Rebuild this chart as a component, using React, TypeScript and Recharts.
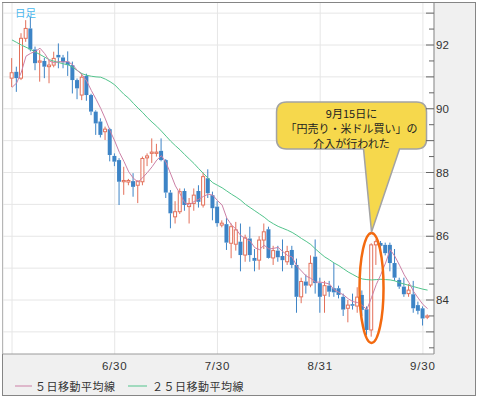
import React from 'react';
import { ComposedChart, Bar, Line, XAxis, YAxis, CartesianGrid, ReferenceDot, Customized } from 'recharts';

const dates = [
  '5/31',
  '6/1','6/2','6/3','6/4','6/7','6/8','6/9','6/10','6/11','6/14','6/15','6/16','6/17','6/18','6/21','6/22','6/23','6/24','6/25','6/28','6/29','6/30',
  '7/1','7/2','7/5','7/6','7/7','7/8','7/9','7/12','7/13','7/14','7/15','7/16','7/19','7/20','7/21','7/22','7/23','7/26','7/27','7/28','7/29','7/30',
  '8/2','8/3','8/4','8/5','8/6','8/9','8/10','8/11','8/12','8/13','8/16','8/17','8/18','8/19','8/20','8/23','8/24','8/25','8/26','8/27','8/30','8/31',
  '9/1','9/2','9/3','9/6','9/7','9/8','9/9','9/10','9/13','9/14','9/15','9/16','9/17','9/20','9/21','9/22','9/23','9/24','9/27','9/28','9/29','9/30',
  '10/1',
];

const opens = [
  90.96, 91.16, 90.96, 92.21, 92.52, 91.86, 91.46, 91.50, 91.32, 91.37,
  91.69, 91.61, 91.48, 91.37, 90.90, 90.43, 91.03, 90.43, 89.91, 89.60,
  89.28, 89.36, 88.52, 88.39, 87.71, 87.70, 87.73, 87.60, 87.71, 88.46,
  88.60, 88.60, 88.68, 88.39, 87.37, 86.61, 86.77, 87.42, 86.93, 87.03,
  87.42, 86.98, 87.82, 87.29, 86.93, 86.35, 86.38, 85.78, 85.75, 85.83,
  85.41, 85.93, 85.32, 85.25, 85.88, 86.22, 85.32, 85.55, 85.38, 85.20,
  85.57, 85.10, 84.10, 84.58, 84.47, 85.36, 84.53, 84.15, 84.45, 84.37,
  84.37, 84.10, 83.74, 83.87, 83.81, 84.16, 83.71, 83.06, 85.73, 85.79,
  85.73, 85.73, 85.16, 84.63, 84.42, 84.20, 84.18, 83.84, 83.74, 83.46,
];
const highs = [
  91.59, 91.32, 92.37, 92.78, 92.87, 91.95, 91.84, 91.60, 91.53, 91.79,
  92.05, 91.69, 91.80, 91.48, 90.95, 91.11, 91.10, 90.47, 89.95, 89.70,
  89.44, 89.40, 88.60, 88.45, 88.18, 87.80, 87.98, 87.75, 88.50, 88.60,
  89.07, 88.90, 89.07, 88.42, 87.45, 87.10, 87.50, 87.50, 87.20, 87.50,
  87.60, 88.00, 88.10, 87.40, 87.10, 86.50, 86.57, 86.40, 86.45, 86.40,
  86.05, 86.30, 85.60, 86.00, 86.40, 86.30, 85.70, 85.70, 85.90, 85.70,
  85.70, 85.30, 84.70, 84.80, 85.40, 85.90, 84.70, 84.60, 84.60, 85.16,
  84.45, 84.20, 84.00, 84.20, 84.40, 84.30, 83.80, 85.78, 85.90, 85.85,
  85.80, 85.80, 85.60, 84.70, 84.70, 84.50, 84.60, 83.95, 83.80, 83.55,
];
const lows = [
  90.68, 90.53, 90.90, 92.10, 91.80, 91.21, 90.85, 90.96, 90.80, 91.30,
  91.27, 91.27, 91.03, 90.48, 90.30, 90.27, 90.25, 89.80, 89.18, 89.10,
  89.02, 88.35, 88.20, 86.98, 87.30, 87.60, 87.24, 87.04, 87.60, 88.20,
  88.30, 88.50, 88.35, 87.20, 86.25, 86.40, 86.70, 86.80, 86.40, 86.80,
  86.90, 86.90, 87.20, 86.50, 86.30, 86.28, 85.57, 85.31, 85.55, 84.90,
  85.20, 85.20, 84.90, 84.95, 85.60, 85.30, 85.10, 85.20, 84.90, 85.10,
  85.00, 83.60, 83.90, 84.20, 84.40, 84.20, 83.60, 83.60, 84.10, 84.10,
  84.05, 83.50, 83.30, 83.70, 83.60, 83.50, 82.90, 82.85, 85.10, 85.55,
  85.40, 84.90, 84.60, 84.35, 84.10, 84.10, 83.60, 83.55, 83.20, 83.40,
];
const closes = [
  91.13, 90.96, 92.21, 92.52, 91.86, 91.43, 91.50, 91.32, 91.37, 91.58,
  91.61, 91.46, 91.37, 90.90, 90.64, 90.99, 90.43, 89.91, 89.54, 89.18,
  89.36, 88.55, 88.34, 87.71, 87.75, 87.75, 87.55, 87.73, 88.44, 88.52,
  88.64, 88.64, 88.39, 87.37, 86.72, 86.77, 87.40, 86.98, 87.03, 87.29,
  87.08, 87.87, 87.35, 86.88, 86.41, 86.41, 85.80, 86.30, 86.20, 85.41,
  85.95, 85.41, 85.23, 85.88, 86.14, 85.32, 85.55, 85.34, 85.25, 85.52,
  85.10, 84.10, 84.58, 84.45, 85.15, 84.53, 84.10, 84.45, 84.26, 84.24,
  84.16, 83.70, 83.84, 83.82, 84.09, 83.69, 83.06, 85.73, 85.83, 85.70,
  85.47, 85.16, 84.70, 84.42, 84.18, 84.31, 83.74, 83.66, 83.42, 83.50,
];
const ma5 = [
  90.67, 90.81, 91.15, 91.65, 91.74, 91.80, 91.90, 91.73, 91.50, 91.44,
  91.48, 91.47, 91.48, 91.38, 91.20, 91.07, 90.87, 90.57, 90.30, 90.01,
  89.68, 89.31, 88.99, 88.63, 88.34, 88.02, 87.82, 87.70, 87.84, 88.00,
  88.18, 88.39, 88.53, 88.31, 87.95, 87.58, 87.33, 87.05, 86.98, 87.09,
  87.16, 87.25, 87.32, 87.29, 87.12, 86.98, 86.57, 86.36, 86.22, 86.02,
  85.93, 85.85, 85.64, 85.58, 85.72, 85.60, 85.62, 85.65, 85.52, 85.40,
  85.35, 85.06, 84.91, 84.75, 84.68, 84.56, 84.56, 84.54, 84.50, 84.32,
  84.24, 84.16, 84.04, 83.95, 83.92, 83.83, 83.70, 84.08, 84.48, 84.80,
  85.16, 85.58, 85.37, 85.09, 84.79, 84.55, 84.27, 84.06, 83.86, 83.73,
];
const ma25 = [
  92.16, 92.08, 92.00, 91.93, 91.86, 91.78, 91.70, 91.62, 91.54, 91.49,
  91.45, 91.41, 91.38, 91.30, 91.20, 91.10, 91.05, 91.02, 91.00, 90.99,
  90.93, 90.85, 90.75, 90.60, 90.45, 90.33, 90.17, 90.02, 89.88, 89.72,
  89.58, 89.45, 89.30, 89.14, 88.98, 88.84, 88.71, 88.56, 88.42, 88.28,
  88.12, 87.97, 87.82, 87.68, 87.60, 87.52, 87.42, 87.32, 87.23, 87.13,
  87.00, 86.90, 86.80, 86.70, 86.60, 86.48, 86.39, 86.31, 86.25, 86.19,
  86.12, 86.03, 85.93, 85.84, 85.74, 85.60, 85.47, 85.35, 85.26, 85.16,
  85.08, 84.98, 84.88, 84.80, 84.72, 84.66, 84.64, 84.63, 84.64, 84.65,
  84.64, 84.63, 84.60, 84.54, 84.50, 84.46, 84.42, 84.38, 84.34, 84.31,
];

const gridDates = ['5/31', '6/30', '7/30', '8/31', '9/30'];
const hiddenDateLabels = ['5/31'];
const priceTicks = [82.5, 83, 83.5, 84, 84.5, 85, 85.5, 86, 86.5, 87, 87.5, 88, 88.5, 89, 89.5, 90, 90.5, 91, 91.5, 92, 92.5, 93];
const gridPrices = [83, 84, 85, 86, 87, 88, 89, 90, 91, 92, 93];
const labeledPrices = [84, 86, 88, 90, 92];
const yDomain: [number, number] = [82.306, 93.318];

const periodLabel = '日足';
const legendItems = [
  { label: '５日移動平均線', color: '#cc80a6' },
  { label: '２５日移動平均線', color: '#52c48c' },
];
const calloutLines = ['9月15日に', '「円売り・米ドル買い」の', '介入が行われた'];
const eventDate = '9/15';
const calloutTipPrice = 86.13;
const ellipseCenterPrice = 84.38;

const UP = '#e3705a';
const DOWN = '#3d84c6';
const JP_FONT = '"Noto Sans CJK JP", "Noto Sans", sans-serif';
const NUM_FONT = '"Liberation Sans", Arial, sans-serif';

const data = dates.map((d, i) => ({
  date: d,
  open: opens[i],
  high: highs[i],
  low: lows[i],
  close: closes[i],
  range: [lows[i], highs[i]],
  ma5: ma5[i],
  ma25: ma25[i],
}));

const Candle = (props: any) => {
  const { x, y, width, height } = props;
  const p = props.payload || props;
  const { open, close, high, low } = p;
  if (x == null || y == null) return <g />;
  const topY = Math.min(y, y + height);
  const h = Math.abs(height);
  const cx = x + width / 2;
  const py = (v: number) => (high === low ? topY : topY + ((high - v) / (high - low)) * h);
  const up = close >= open;
  const color = up ? UP : DOWN;
  const bTop = py(Math.max(open, close));
  const bBot = py(Math.min(open, close));
  const bh = Math.max(bBot - bTop, 1);
  return (
    <g>
      <line x1={cx} x2={cx} y1={topY} y2={bTop} stroke={color} strokeWidth={1} />
      <line x1={cx} x2={cx} y1={bTop + bh} y2={topY + h} stroke={color} strokeWidth={1} />
      {up ? (
        <rect x={cx - 1.5} y={bTop} width={3} height={bh} fill="#ffffff" stroke={color} strokeWidth={1} />
      ) : (
        <rect x={cx - 2} y={bTop} width={4} height={bh} fill={color} />
      )}
    </g>
  );
};

const RightTick = (props: any) => {
  const { x, y, payload } = props;
  const v = payload.value;
  const major = Number.isInteger(v);
  return (
    <g>
      <line x1={x - (major ? 8 : 5)} x2={x} y1={y} y2={y} stroke="#666" strokeWidth={1} />
      {labeledPrices.includes(v) && (
        <text x={x + 2} y={y} dominantBaseline="central" textAnchor="start" fontSize={11.5} fill="#333" fontFamily={NUM_FONT}>
          {v}
        </text>
      )}
    </g>
  );
};

const LeftTick = (props: any) => {
  const { x, y, payload } = props;
  const major = Number.isInteger(payload.value);
  return <line x1={x} x2={x + (major ? 7 : 4)} y1={y} y2={y} stroke="#666" strokeWidth={1} />;
};

const XTick = (props: any) => {
  const { x, y, payload } = props;
  if (hiddenDateLabels.includes(payload.value)) return <g />;
  return (
    <text x={x} y={y} textAnchor="middle" dominantBaseline="central" fontSize={11.5} fill="#333" fontFamily={NUM_FONT} letterSpacing={0.8}>
      {payload.value}
    </text>
  );
};

const EllipseMark = (props: any) => {
  const { cx, cy } = props;
  if (cx == null || cy == null) return <g />;
  return <ellipse cx={cx} cy={cy} rx={12} ry={55} fill="none" stroke="#f36a10" strokeWidth={2.5} />;
};

const Callout = (props: any) => {
  const { cx, cy } = props;
  if (cx == null || cy == null) return <g />;
  const L = cx - 95;
  const R = cx + 55;
  const T = cy - 130;
  const B = cy - 83;
  const r = 10;
  const bl = cx - 8;
  const br = cx + 28;
  const d = `M ${L + r} ${T} H ${R - r} Q ${R} ${T} ${R} ${T + r} V ${B - r} Q ${R} ${B} ${R - r} ${B} H ${br} L ${cx} ${cy} L ${bl} ${B} H ${L + r} Q ${L} ${B} ${L} ${B - r} V ${T + r} Q ${L} ${T} ${L + r} ${T} Z`;
  const mid = (L + R) / 2;
  return (
    <g>
      <path d={d} fill="#f6d84c" stroke="#a3a3a3" strokeWidth={1.5} />
      {calloutLines.map((t, i) => (
        <text key={i} x={mid} y={T + 11 + i * 15} textAnchor="middle" dominantBaseline="central" fontSize={11} fill="#222" fontFamily={JP_FONT}>
          {t}
        </text>
      ))}
    </g>
  );
};

const Decorations = () => (
  <g>
    <text x={15} y={12} dominantBaseline="central" fontSize={10.5} fill="#4ab8ee" fontFamily={JP_FONT}>
      {periodLabel}
    </text>
    <line x1={15} x2={32} y1={386} y2={386} stroke={legendItems[0].color} strokeWidth={1} />
    <text x={35} y={386} dominantBaseline="central" fontSize={11} fill="#333" fontFamily={JP_FONT} letterSpacing={0.5}>
      {legendItems[0].label}
    </text>
    <line x1={128} x2={147} y1={386} y2={386} stroke={legendItems[1].color} strokeWidth={1} />
    <text x={152} y={386} dominantBaseline="central" fontSize={11} fill="#333" fontFamily={JP_FONT} letterSpacing={0.5}>
      {legendItems[1].label}
    </text>
  </g>
);

export default function App() {
  return (
    <div style={{ position: 'absolute', left: 0, top: 0, width: 478, height: 399, background: '#ffffff' }}>
      <div
        style={{
          position: 'absolute',
          left: 2,
          top: 2,
          width: 474,
          height: 394,
          border: '1px solid #858585',
          boxSizing: 'border-box',
          background: '#f0f0f0',
        }}
      />
      <div style={{ position: 'absolute', left: 0, top: 0 }}>
        <ComposedChart width={478} height={399} data={data} margin={{ top: 3, left: 3, right: 4, bottom: 25 }}>
          <CartesianGrid
            yAxisId="r"
            stroke="#e6e6e6"
            fill="#ffffff"
            fillOpacity={1}
            horizontalValues={gridPrices}
          />
          <XAxis
            dataKey="date"
            type="category"
            ticks={gridDates}
            interval={0}
            height={20}
            tickLine={false}
            tickSize={0}
            tickMargin={12}
            axisLine={{ stroke: '#9a9a9a' }}
            padding={{ left: 6.67, right: 4.1 }}
            tick={(p: any) => <XTick {...p} />}
          />
          <YAxis
            yAxisId="l"
            orientation="left"
            type="number"
            width={0}
            domain={yDomain}
            allowDataOverflow
            ticks={priceTicks}
            interval={0}
            tickLine={false}
            tickSize={0}
            tickMargin={0}
            axisLine={{ stroke: '#858585' }}
            tick={(p: any) => <LeftTick {...p} />}
          />
          <YAxis
            yAxisId="r"
            orientation="right"
            type="number"
            width={40}
            domain={yDomain}
            allowDataOverflow
            ticks={priceTicks}
            interval={0}
            tickLine={false}
            tickSize={0}
            tickMargin={0}
            axisLine={{ stroke: '#8a8a8a' }}
            tick={(p: any) => <RightTick {...p} />}
          />
          <Bar yAxisId="l" dataKey="range" barSize={4} shape={(p: any) => <Candle {...p} />} isAnimationActive={false} />
          <Line yAxisId="r" type="linear" dataKey="ma25" stroke={legendItems[1].color} strokeWidth={1} dot={false} activeDot={false} isAnimationActive={false} />
          <Line yAxisId="r" type="linear" dataKey="ma5" stroke={legendItems[0].color} strokeWidth={1} dot={false} activeDot={false} isAnimationActive={false} />
          <ReferenceDot yAxisId="r" x={eventDate} y={ellipseCenterPrice} r={1} shape={(p: any) => <EllipseMark {...p} />} />
          <ReferenceDot yAxisId="r" x={eventDate} y={calloutTipPrice} r={1} shape={(p: any) => <Callout {...p} />} />
          <Customized component={Decorations} />
        </ComposedChart>
      </div>
    </div>
  );
}
